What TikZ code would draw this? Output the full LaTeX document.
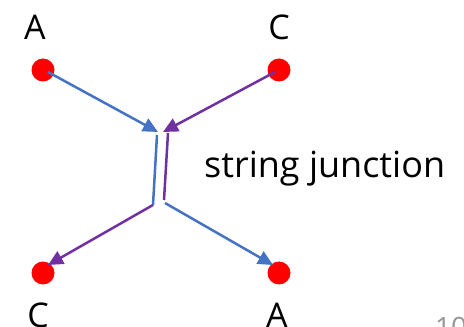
\documentclass[tikz,border=0pt]{standalone}
\usepackage{fontspec}
\setmainfont{Open Sans}
\usetikzlibrary{arrows.meta}
\definecolor{lblue}{RGB}{68,114,196}
\definecolor{lpurple}{RGB}{112,48,160}
\definecolor{pgrey}{RGB}{150,150,150}
\begin{document}
\begin{tikzpicture}[x=1pt,y=1pt,
  dot/.style={circle,fill=red,minimum size=23pt,inner sep=0pt},
  lbl/.style={font=\fontsize{34}{40}\selectfont,anchor=base,inner sep=0pt},
  bl/.style={lblue,line width=2.5pt},
  pl/.style={lpurple,line width=2.5pt},
  tip/.style={-{Triangle[length=15pt,width=14pt]}}]
\useasboundingbox (0,0) rectangle (464,327);
\node[dot] (dA1) at (43,257) {};
\node[dot] (dC1) at (279,257) {};
\node[dot] (dC2) at (43,54) {};
\node[dot] (dA2) at (279,54) {};
\node[lbl] (tA1) at (35,287) {A};
\node[lbl] (tC1) at (279,287) {C};
\node[lbl] (tC2) at (38,-1) {C};
\node[lbl] (tA2) at (277,-1) {A};
\node[font=\fontsize{36}{42}\selectfont,anchor=base west,inner sep=0pt] (sj) at (204,149) {string junction};
\node[font=\fontsize{28}{32}\selectfont,anchor=base west,inner sep=0pt,text=pgrey] (pn) at (435,-11) {10};
% junction coordinates
\coordinate (bt) at (158,195);
\coordinate (bv1) at (157,192);
\coordinate (bv2) at (153,122);
\coordinate (pt) at (163,195);
\coordinate (pv1) at (168,194);
\coordinate (pv2) at (164,127);
\coordinate (bs) at (165,124);
\coordinate (ps) at (153,122);
\coordinate (ea) at (273,62);
\coordinate (ec) at (48,62);
\draw[bl,tip] (dA1.center) ++(5,-2) -- (bt);
\draw[pl,tip] (dC1.center) ++(-4,-2) -- (pt);
\draw[bl] (bv1) -- (bv2);
\draw[pl] (pv1) -- (pv2);
\draw[pl,tip] (ps) -- (ec);
\draw[bl,tip] (bs) -- (ea);
\end{tikzpicture}
\end{document}
